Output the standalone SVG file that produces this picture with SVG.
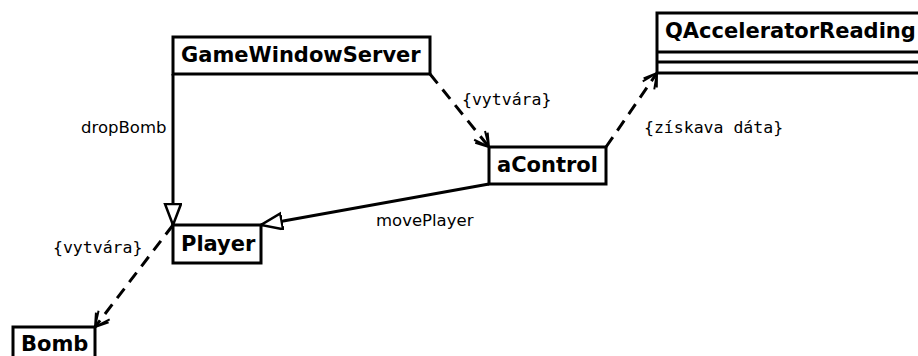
<svg xmlns="http://www.w3.org/2000/svg" width="918" height="356" viewBox="0 0 918 356">
<style>
.box{fill:#fff;stroke:#000;stroke-width:3}
.title{font-family:"DejaVu Sans",sans-serif;font-weight:bold;font-size:21px;fill:#000}
.lbl{font-family:"DejaVu Sans",sans-serif;font-size:16.5px;fill:#000}
.mono{font-family:"DejaVu Sans Mono",monospace;font-size:16.5px;fill:#000}
.solid{fill:none;stroke:#000;stroke-width:3}
.dash{fill:none;stroke:#000;stroke-width:3;stroke-dasharray:12 8}
</style>
<defs>
<marker id="tri" markerUnits="userSpaceOnUse" markerWidth="26" markerHeight="22" refX="22" refY="9" orient="auto">
<path d="M1,1 L22,9 L1,17 Z" fill="#fff" stroke="#000" stroke-width="2.5"/>
</marker>
<marker id="open" markerUnits="userSpaceOnUse" markerWidth="20" markerHeight="20" refX="16" refY="9" orient="auto">
<path d="M1,2 L16,9 L1,16 M4,1 L16,9 L4,17" fill="none" stroke="#000" stroke-width="2"/>
</marker>
</defs>
<g id="connectors">
<path class="solid" d="M173,74 L173,225" marker-end="url(#tri)"/>
<path class="solid" d="M489,184 L261,225" marker-end="url(#tri)"/>
<path class="dash" d="M430,74 L489,147" marker-end="url(#open)"/>
<path class="dash" d="M606,147 L657,73" marker-end="url(#open)"/>
<path class="dash" d="M173,225 L95,327" marker-end="url(#open)"/>
<text class="lbl" x="81" y="133">dropBomb</text>
<text class="mono" x="462" y="105">{vytvára}</text>
<text class="mono" x="644" y="133">{získava dáta}</text>
<text class="lbl" x="376" y="226">movePlayer</text>
<text class="mono" x="53" y="253">{vytvára}</text>
</g>
<g id="GameWindowServer">
<rect class="box" x="173" y="37" width="257" height="37"/>
<text class="title" x="181" y="62">GameWindowServer</text>
</g>
<g id="QAcceleratorReading">
<rect class="box" x="657" y="13" width="280" height="60"/>
<line x1="657" y1="52" x2="918" y2="52" stroke="#000" stroke-width="3"/>
<line x1="657" y1="62" x2="918" y2="62" stroke="#000" stroke-width="3"/>
<text class="title" x="665" y="38">QAcceleratorReading</text>
</g>
<g id="aControl">
<rect class="box" x="489" y="147" width="117" height="37"/>
<text class="title" x="497" y="172">aControl</text>
</g>
<g id="Player">
<rect class="box" x="173" y="225" width="88" height="38"/>
<text class="title" x="181" y="251">Player</text>
</g>
<g id="Bomb">
<rect class="box" x="13" y="327" width="82" height="40"/>
<text class="title" x="21" y="351">Bomb</text>
</g>
</svg>
